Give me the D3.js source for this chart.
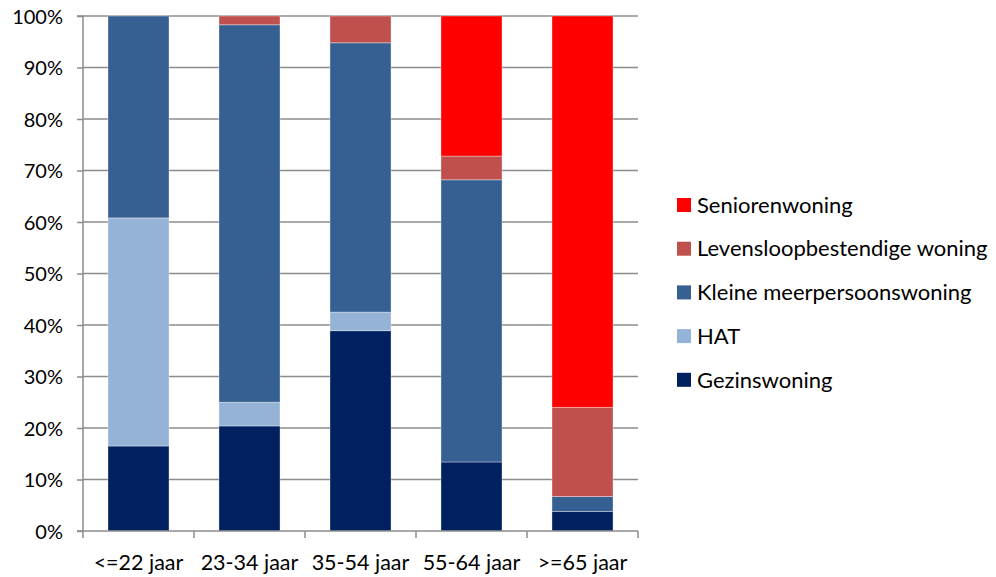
<!DOCTYPE html>
<html><head><meta charset="utf-8">
<script src="https://cdn.jsdelivr.net/npm/d3@7"></script>
<style>body{margin:0;background:#fff}svg text{font-family:Lato,"Open Sans",sans-serif;fill:#000}</style>
</head><body><svg id="c" width="996" height="577"></svg>
<script>
const categories = ["<=22 jaar","23-34 jaar","35-54 jaar","55-64 jaar",">=65 jaar"];
const seriesNames = ["Gezinswoning","HAT","Kleine meerpersoonswoning","Levensloopbestendige woning","Seniorenwoning"];
const gezinswoning = [16.5, 20.4, 38.9, 13.4, 3.8];
const hat = [44.3, 4.6, 3.6, 0, 0];
const kleineMeerpersoons = [39.2, 73.3, 52.3, 54.8, 2.9];
const levensloop = [0, 1.7, 5.2, 4.6, 17.3];
const senioren = [0, 0, 0, 27.2, 76.0];
const colors = ["#002060","#95B3D7","#376092","#C0504D","#FF0000"];
const yTicks = [0,10,20,30,40,50,60,70,80,90,100];

const seriesVals = [gezinswoning, hat, kleineMeerpersoons, levensloop, senioren];
const table = categories.map((c,i)=>{const o={cat:c}; seriesNames.forEach((s,j)=>o[s]=seriesVals[j][i]); return o;});
const stack = d3.stack().keys(seriesNames)(table);

const svg = d3.select("#c");
const L=83, R=638, T=16, B=531;
const x = d3.scaleBand().domain(categories).range([L,R]).paddingInner(0.45).paddingOuter(0.225);
const y = d3.scaleLinear().domain([0,100]).range([B,T]);

// gridlines
svg.append("g").selectAll("line").data(yTicks.filter(d=>d>0)).join("line")
  .attr("x1",L).attr("x2",R).attr("y1",d=>y(d)).attr("y2",d=>y(d))
  .attr("stroke","#8c8c8c").attr("stroke-width",1.5);

// bars
const g = svg.append("g");
stack.forEach((s,j)=>{
  g.append("g").selectAll("rect").data(s.filter(d=>d[1]-d[0]>0)).join("rect")
    .attr("x",d=>x(d.data.cat)).attr("width",x.bandwidth())
    .attr("y",d=>y(d[1])).attr("height",d=>y(d[0])-y(d[1]))
    .attr("fill",colors[j]).attr("stroke","rgba(255,255,255,0.35)").attr("stroke-width",1);
});

// y axis
const ya = svg.append("g").attr("transform",`translate(${L},0)`)
  .call(d3.axisLeft(y).tickValues(yTicks).tickFormat(d=>d+"%").tickSize(6).tickPadding(14));
ya.select(".domain").attr("stroke","#8c8c8c").attr("stroke-width",1.5).attr("d",`M-6,${T}H0V${B}H-6`);
ya.selectAll(".tick line").attr("stroke","#8c8c8c").attr("stroke-width",1.5);
ya.selectAll(".tick text").attr("font-size",20).attr("dy","0.35em").attr("font-family","Lato, sans-serif");

// x axis
const xa = svg.append("g").attr("transform",`translate(0,${B})`);
xa.append("line").attr("x1",L).attr("x2",R).attr("stroke","#8c8c8c").attr("stroke-width",1.5);
const bounds = categories.map(c=>x(c)-x.step()*x.paddingInner()/2).concat([R]);
bounds[0]=L;
xa.selectAll("line.t").data(bounds).join("line").attr("class","t")
  .attr("x1",d=>d).attr("x2",d=>d).attr("y1",0).attr("y2",7).attr("stroke","#8c8c8c").attr("stroke-width",1.5);
xa.selectAll("text").data(categories).join("text")
  .attr("x",d=>x(d)+x.bandwidth()/2).attr("y",39).attr("text-anchor","middle")
  .attr("font-size",21.5).text(d=>d);

// legend
const legendOrder = [4,3,2,1,0];
const lg = svg.append("g");
legendOrder.forEach((j,k)=>{
  const cy = 205 + k*43.7;
  lg.append("rect").attr("x",677).attr("y",cy-7).attr("width",14).attr("height",14).attr("fill",colors[j]);
  lg.append("text").attr("x",697).attr("y",cy).attr("dy","0.35em").attr("font-size",22).text(seriesNames[j]);
});
</script></body></html>
